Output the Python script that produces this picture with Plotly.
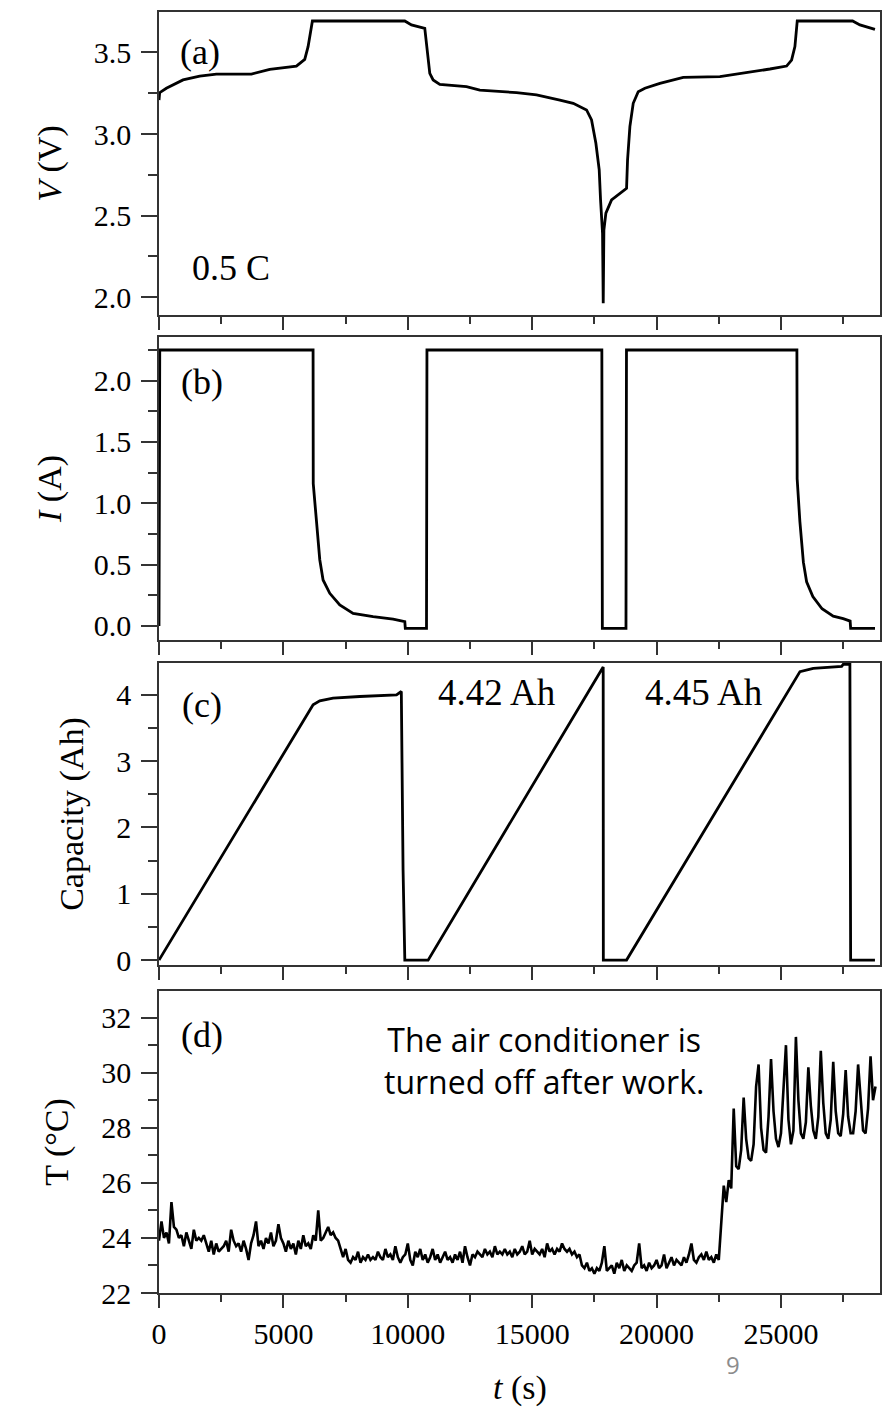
import plotly.graph_objects as go

# ---------------- data ----------------
# (a) voltage
t_V = [0, 27, 295, 966, 1636, 2306, 3714, 4451, 5523, 5858, 5992, 6086, 6166,
       9879, 10147, 10683, 10777, 10884, 11018, 11286, 12358, 12895, 14370,
       15174, 16113, 16649, 17185, 17386, 17560, 17694, 17748, 17828, 17855,
       17882, 17962, 18190, 18793, 18833, 18927, 19061, 19262, 19530, 20133,
       21071, 22545, 23617, 24555, 25225, 25426, 25560, 25654, 27879, 28174, 28777]
V = [3.208, 3.253, 3.280, 3.331, 3.355, 3.367, 3.367, 3.396, 3.416, 3.457, 3.535,
     3.637, 3.692, 3.692, 3.668, 3.647, 3.514, 3.371, 3.331, 3.304, 3.290, 3.269,
     3.253, 3.239, 3.208, 3.188, 3.147, 3.086, 2.943, 2.780, 2.596, 2.392, 1.963,
     2.412, 2.515, 2.596, 2.667, 2.841, 3.045, 3.188, 3.259, 3.280, 3.310, 3.347,
     3.351, 3.375, 3.398, 3.416, 3.453, 3.535, 3.692, 3.692, 3.668, 3.641]

# (b) current
t_I = [0, 30, 6193, 6200, 6327, 6400, 6462, 6595, 6864, 7266, 7802, 8606, 9410,
       9880, 9900, 10752, 10770, 17800, 17820, 18770, 18790, 25640, 25650, 25760,
       25830, 25900, 26030, 26280, 26650, 27100, 27500, 27780, 27800, 28780]
I = [0.0, 2.25, 2.25, 1.16, 0.86, 0.67, 0.54, 0.375, 0.266, 0.171, 0.103, 0.076,
     0.055, 0.035, -0.02, -0.02, 2.25, 2.25, -0.02, -0.02, 2.25, 2.25, 1.2, 0.85,
     0.66, 0.52, 0.36, 0.24, 0.14, 0.08, 0.06, 0.04, -0.02, -0.02]

# (c) capacity
t_C = [0, 6193, 6462, 6997, 8070, 9546, 9740, 9810, 9880, 10817, 17854, 17860,
       18793, 25763, 26297, 27439, 27502, 27770, 27800, 28777]
C = [0.0, 3.85, 3.91, 3.95, 3.975, 4.0, 4.05, 1.36, 0.0, 0.0, 4.42, 0.0, 0.0,
     4.35, 4.40, 4.43, 4.46, 4.46, 0.0, 0.0]

# (d) temperature, sampled every 100 s
t_T = list(range(0, 28801, 100))
T = [
    23.9, 24.6, 24.0, 24.2, 23.8, 25.3, 24.4, 24.3, 24.0, 24.1,
    23.7, 24.2, 23.9, 23.6, 24.3, 23.9, 24.0, 23.9, 24.1, 23.8,
    23.5, 23.9, 23.4, 23.8, 23.5, 23.6, 23.7, 23.9, 23.5, 24.3,
    23.9, 23.7, 23.8, 23.5, 23.9, 23.6, 23.2, 23.8, 24.1, 24.6,
    23.7, 23.9, 23.6, 24.0, 23.8, 24.2, 23.7, 23.9, 24.5, 24.0,
    23.8, 23.5, 23.9, 23.6, 23.8, 23.4, 23.9, 23.6, 24.1, 23.7,
    23.8, 23.6, 24.1, 23.9, 25.0, 23.9, 24.0, 24.2, 24.4, 24.1,
    24.2, 24.0, 23.9, 23.6, 23.3, 23.6, 23.2, 23.1, 23.3, 23.2,
    23.5, 23.1, 23.3, 23.2, 23.4, 23.2, 23.3, 23.2, 23.5, 23.3,
    23.2, 23.6, 23.3, 23.4, 23.2, 23.7, 23.3, 23.1, 23.3, 23.4,
    23.8, 23.2, 23.0, 23.5, 23.3, 23.6, 23.2, 23.4, 23.1, 23.3,
    23.6, 23.2, 23.4, 23.1, 23.3, 23.5, 23.2, 23.3, 23.1, 23.4,
    23.2, 23.5, 23.1, 23.7, 23.3, 23.0, 23.4, 23.3, 23.5, 23.4,
    23.3, 23.6, 23.4, 23.5, 23.3, 23.7, 23.4, 23.5, 23.4, 23.6,
    23.4, 23.5, 23.3, 23.6, 23.4, 23.5, 23.7, 23.4, 23.5, 23.9,
    23.4, 23.6, 23.5, 23.4, 23.6, 23.3, 23.8, 23.5, 23.6, 23.4,
    23.6, 23.5, 23.8, 23.6, 23.5, 23.6, 23.4, 23.5, 23.3, 23.4,
    23.0, 22.9, 23.1, 22.8, 22.9, 22.7, 22.9, 22.8, 23.1, 23.7,
    22.8, 22.9, 23.0, 22.7, 23.1, 22.9, 23.2, 22.8, 23.0, 22.9,
    22.8, 23.0, 23.1, 23.8, 22.9, 23.0, 22.8, 23.1, 22.9, 23.0,
    23.2, 22.9, 23.0, 23.4, 22.9, 23.1, 23.3, 23.0, 23.2, 23.1,
    23.0, 23.3, 23.1, 23.4, 23.8, 23.2, 23.1, 23.3, 23.4, 23.2,
    23.5, 23.2, 23.3, 23.1, 23.4, 23.2, 24.5, 25.9, 25.3, 26.1,
    25.8, 28.7, 26.6, 26.5, 27.2, 29.1, 27.6, 26.9, 26.8, 27.4,
    29.5, 30.3, 28.0, 27.2, 27.1, 28.4, 30.5, 28.6, 27.6, 27.3,
    27.8, 29.6, 31.0, 28.3, 27.4, 27.9, 31.3, 29.0, 27.8, 27.6,
    28.2, 30.2, 28.8, 27.9, 27.6, 28.4, 30.8, 28.9, 27.8, 27.6,
    28.3, 30.4, 28.6, 27.8, 27.7, 28.5, 30.1, 28.4, 27.8, 27.8,
    28.6, 30.3, 28.9, 27.9, 27.8, 28.7, 30.6, 29.0, 29.5,
]

x_ticks = [0, 5000, 10000, 15000, 20000, 25000]
x_tick_text = ["0", "5000", "10000", "15000", "20000", "25000"]

# ---------------- figure ----------------
SERIF = "Liberation Serif, Times New Roman, serif"
AX = "#333333"
LINE = dict(color="black", width=2.8)

fig = go.Figure()
fig.add_trace(go.Scatter(x=t_V, y=V, mode="lines", line=LINE, xaxis="x", yaxis="y"))
fig.add_trace(go.Scatter(x=t_I, y=I, mode="lines", line=LINE, xaxis="x2", yaxis="y2"))
fig.add_trace(go.Scatter(x=t_C, y=C, mode="lines", line=LINE, xaxis="x3", yaxis="y3"))
fig.add_trace(go.Scatter(x=t_T, y=T, mode="lines", line=dict(color="black", width=2.6),
                         xaxis="x4", yaxis="y4"))

xr = [0, 28980]
def xaxis(anchor, labels):
    return dict(anchor=anchor, range=xr, tickvals=x_ticks, ticktext=x_tick_text,
                ticks="outside", ticklen=13, automargin=False,
                tickwidth=1.6, tickcolor=AX, showline=True, linecolor=AX, linewidth=1.6,
                mirror=True, showgrid=False, zeroline=False, showticklabels=labels,
                ticklabelstandoff=0,
                tickfont=dict(family=SERIF, size=30, color="black"),
                minor=dict(dtick=2500, tick0=0, ticks="outside", ticklen=7,
                           tickwidth=1.6, tickcolor=AX, showgrid=False))

def yaxis(anchor, dom, rng, dtick, mdtick, title, fmt=None):
    d = dict(anchor=anchor, domain=dom, range=rng, dtick=dtick, tick0=0,
             ticks="outside", ticklen=16, tickwidth=1.6, tickcolor=AX,
             showline=True, linecolor=AX, linewidth=1.6, mirror=True,
             showgrid=False, zeroline=False, ticklabelstandoff=4, automargin=False,
             tickfont=dict(family=SERIF, size=30, color="black"),
             title=dict(text=title, font=dict(family=SERIF, size=34, color="black"),
                        standoff=22),
             minor=dict(dtick=mdtick, tick0=0, ticks="outside", ticklen=9,
                        tickwidth=1.6, tickcolor=AX, showgrid=False))
    if fmt:
        d["tickformat"] = fmt
    return d

fig.update_layout(
    width=884, height=1408,
    margin=dict(l=159, r=4, t=12, b=115, autoexpand=False),
    paper_bgcolor="white", plot_bgcolor="white",
    showlegend=False,
    xaxis=xaxis("y", False),
    xaxis2=xaxis("y2", False),
    xaxis3=xaxis("y3", False),
    xaxis4=xaxis("y4", True),
    yaxis=yaxis("x", [0.7635, 1.0], [1.892, 3.747], 0.5, 0.25, "<i>V</i> (V)", ".1f"),
    yaxis2=yaxis("x2", [0.5098, 0.7463], [-0.114, 2.356], 0.5, 0.25, "<i>I</i> (A)", ".1f"),
    yaxis3=yaxis("x3", [0.2560, 0.4918], [-0.075, 4.48], 1, 0.5, "Capacity (Ah)"),
    yaxis4=yaxis("x4", [0.0, 0.2358], [22, 32.97], 2, 1, "T (°C)"),
)

ann = []
def lab(text, x, y, xref, yref, size, xanchor="center", font=SERIF, color="black"):
    ann.append(dict(text=text, x=x, y=y, xref=xref, yref=yref, showarrow=False,
                    xanchor=xanchor, yanchor="middle",
                    font=dict(family=font, size=size, color=color)))

lab("(a)", 1637, 3.50, "x", "y", 36)
lab("0.5 C", 2891, 2.18, "x", "y", 36)
lab("(b)", 1720, 1.99, "x2", "y2", 36)
lab("(c)", 1720, 3.85, "x3", "y3", 36)
lab("4.42 Ah", 13600, 4.03, "x3", "y3", 37)
lab("4.45 Ah", 21900, 4.03, "x3", "y3", 37)
lab("(d)", 1720, 31.37, "x4", "y4", 36)
lab("The air conditioner is<br>turned off after work.", 8955, 30.45, "x4", "y4", 32,
    xanchor="left", font="Open Sans, Noto Sans, sans-serif")
lab("<i>t</i> (s)", 0.5, -0.0742, "paper", "paper", 34)
lab("9", 0.796, -0.056, "paper", "paper", 24, font="Open Sans, sans-serif", color="#8c8c8c")
fig.update_layout(annotations=ann)

fig.write_html("out.html", config={"displayModeBar": False},
               post_script="document.body.style.margin='0';document.body.style.overflow='hidden';")
